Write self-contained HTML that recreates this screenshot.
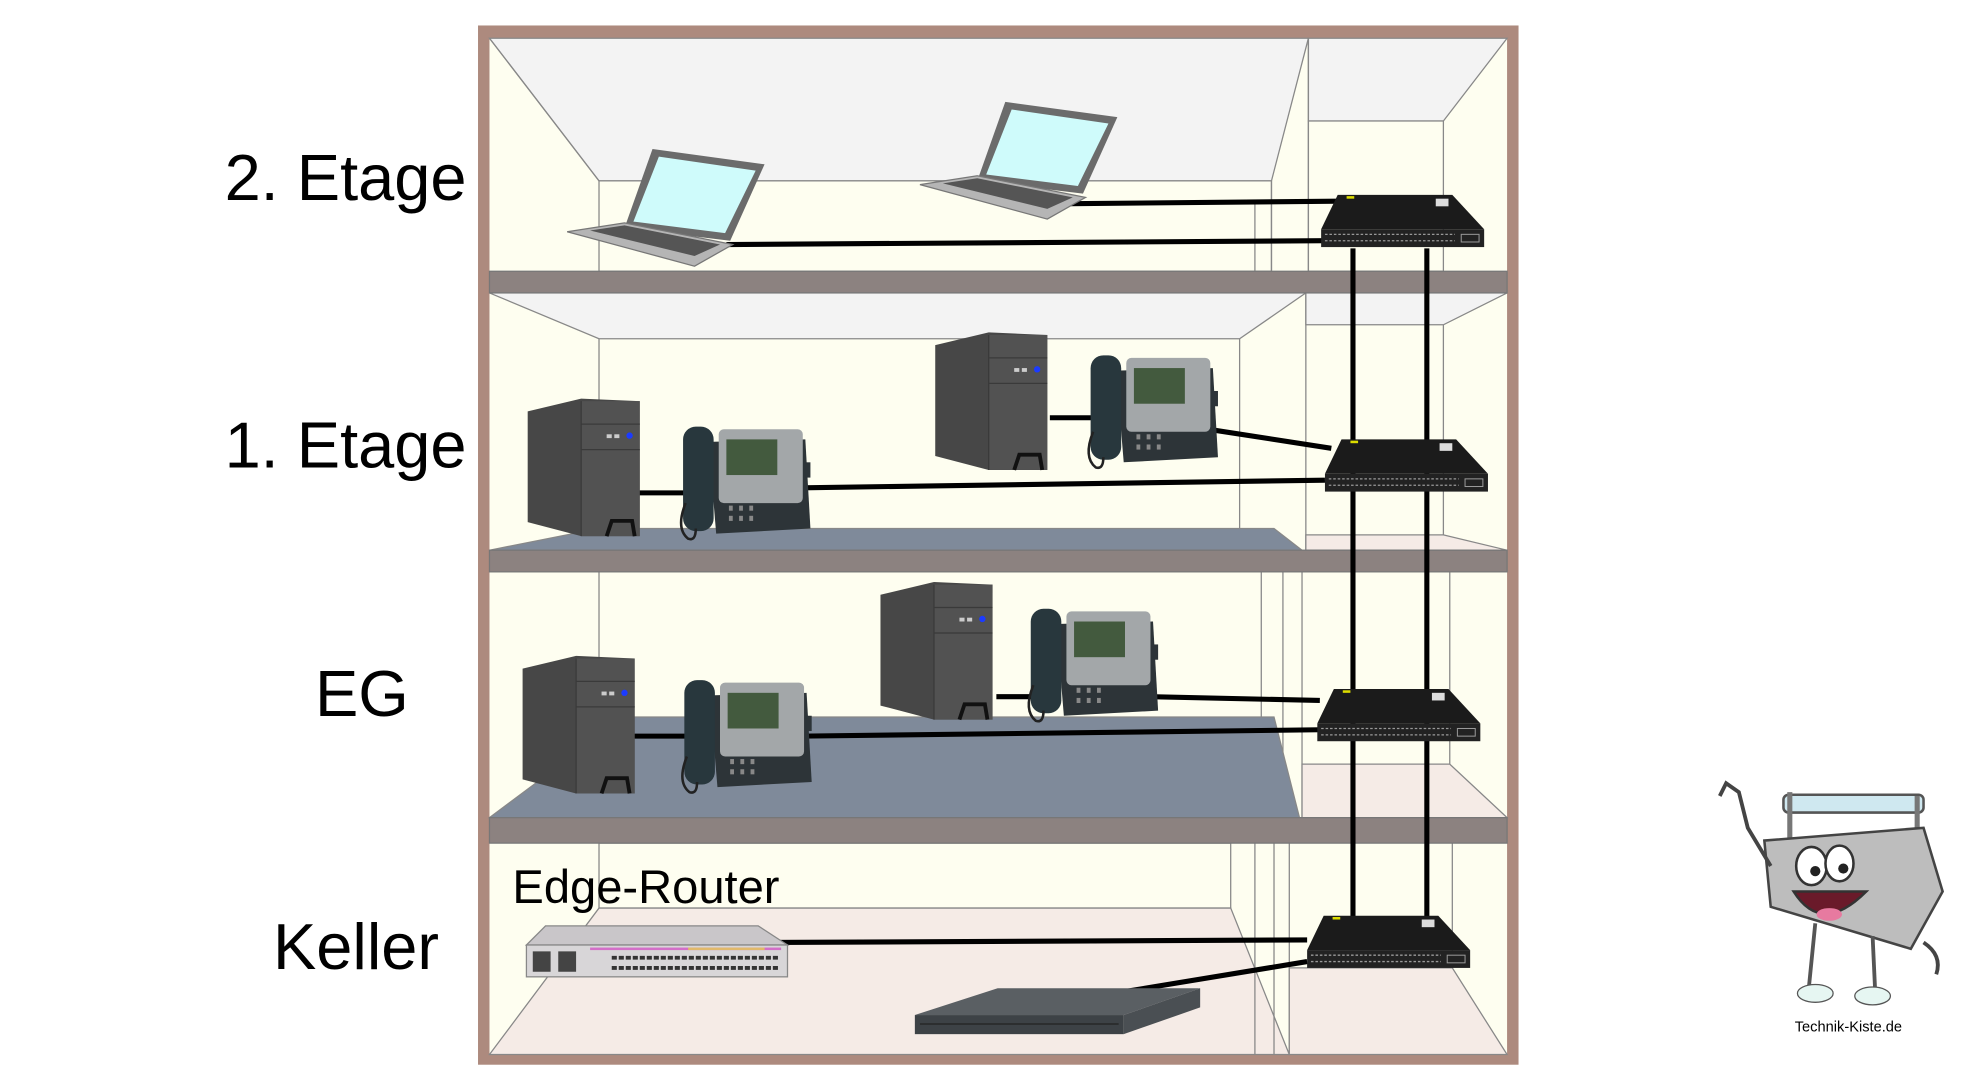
<!DOCTYPE html>
<html><head><meta charset="utf-8"><style>
html,body{margin:0;padding:0;background:#fff;}
svg{display:block;}
text{font-family:"Liberation Sans",sans-serif;}
</style></head><body>
<svg width="1980" height="1080" viewBox="0 0 1554 848" xmlns="http://www.w3.org/2000/svg">
<defs>
<g id="tower">
 <polygon points="0,10 42,0 88,2 88,108 42,108 0,97" fill="#474747"/>
 <rect x="42" y="2" width="46" height="106" fill="#525252"/>
 <line x1="42" y1="2" x2="42" y2="108" stroke="#3a3a3a"/>
 <line x1="42" y1="20" x2="88" y2="20" stroke="#3a3a3a"/>
 <line x1="42" y1="40" x2="88" y2="40" stroke="#3a3a3a"/>
 <rect x="62" y="28" width="4" height="3" fill="#ccc"/><rect x="68" y="28" width="4" height="3" fill="#ccc"/>
 <circle cx="80" cy="29" r="2.5" fill="#1b3bff"/>
 <path d="M62,108 L66,96 L82,96 L84,108" fill="none" stroke="#111" stroke-width="3"/>
</g>
<g id="phone">
 <polygon points="24,12 100,10 104,80 30,84" fill="#2d3438"/>
 <rect x="32" y="2" width="66" height="58" rx="4" fill="#a3a7a9"/>
 <rect x="38" y="10" width="40" height="28" fill="#435a3e"/>
 <rect x="100" y="28" width="4" height="12" fill="#2d3438"/>
 <rect x="4" y="0" width="24" height="82" rx="10" fill="#28373d"/>
 <path d="M6,60 Q-2,80 8,88 Q14,90 14,80" fill="none" stroke="#222" stroke-width="2"/>
 <g fill="#888"><rect x="40" y="62" width="3" height="4"/><rect x="48" y="62" width="3" height="4"/><rect x="56" y="62" width="3" height="4"/><rect x="40" y="70" width="3" height="4"/><rect x="48" y="70" width="3" height="4"/><rect x="56" y="70" width="3" height="4"/></g>
</g>
<g id="switch">
 <polygon points="13,0 103,0 128,27 0,27" fill="#1b1b1b"/>
 <rect x="0" y="27" width="128" height="14" fill="#222"/>
 <line x1="3" y1="31" x2="105" y2="31" stroke="#999" stroke-width="1" stroke-dasharray="2,1.5"/>
 <line x1="3" y1="36" x2="105" y2="36" stroke="#999" stroke-width="1" stroke-dasharray="2,1.5"/>
 <rect x="110" y="31" width="14" height="6" fill="none" stroke="#999" stroke-width="0.8"/>
 <rect x="90" y="3" width="10" height="6" fill="#ddd"/>
 <rect x="20" y="1" width="6" height="2" fill="#dd0"/>
</g>
<g id="laptop">
 <polygon points="67,0 155,12 128,72 45,62" fill="#6b6b6b"/>
 <polygon points="72,6 148,17 124,66 52,57" fill="#cffbfb"/>
 <polygon points="0,65 45,58 130,75 100,92" fill="#b5b5b5" stroke="#777" stroke-width="1"/>
 <polygon points="18,64 45,60 120,75 100,84" fill="#555"/>
</g>
</defs>

<rect x="375" y="20" width="817" height="816" fill="#ad8a7e"/>
<rect x="384" y="30" width="799" height="798" fill="#fefef0"/>

<g stroke="#888" stroke-width="1">
<polygon points="384,30 1027,30 998,142 470,142" fill="#f3f3f3"/>
<rect x="470" y="142" width="528" height="71" fill="#fefef0"/>
<line x1="384" y1="30" x2="470" y2="142"/>
<line x1="985" y1="213" x2="985" y2="160"/><line x1="998" y1="142" x2="998" y2="213"/>
<polygon points="1027,30 1183,30 1133,95 1027,95" fill="#f3f3f3"/>
<rect x="1027" y="95" width="106" height="118" fill="#fefef0"/>
<line x1="1027" y1="30" x2="1027" y2="213"/>
<polygon points="384,230 1025,230 973,266 470,266" fill="#f3f3f3"/>
<line x1="470" y1="266" x2="470" y2="415"/><line x1="973" y1="266" x2="973" y2="415"/>
<polygon points="1025,230 1183,230 1133,255 1025,255" fill="#f3f3f3"/>
<line x1="1025" y1="230" x2="1025" y2="432"/><line x1="1133" y1="255" x2="1133" y2="420"/>
<polygon points="1025,420 1133,420 1183,432 1025,432" fill="#f5ebe6"/>
<polygon points="384,432 470,415 1000,415 1022,432" fill="#7f8a9a"/>
<line x1="470" y1="449" x2="470" y2="563"/><line x1="990" y1="449" x2="990" y2="563"/>
<line x1="1007" y1="449" x2="1007" y2="642"/><line x1="1022" y1="449" x2="1022" y2="642"/>
<line x1="1138" y1="449" x2="1138" y2="600"/>
<polygon points="1022,600 1138,600 1183,642 1022,642" fill="#f5ebe6"/>
<polygon points="384,642 490,563 1000,563 1020,642" fill="#7f8a9a"/>
<rect x="470" y="662" width="496" height="51" fill="#fefef0"/>
<polygon points="384,828 470,713 966,713 1012,828" fill="#f5ebe6"/>
<line x1="985" y1="662" x2="985" y2="828"/><line x1="1000" y1="662" x2="1000" y2="828"/>
<line x1="1012" y1="662" x2="1012" y2="828"/>
<line x1="1140" y1="662" x2="1140" y2="760"/>
<polygon points="1012,760 1140,760 1183,828 1012,828" fill="#f5ebe6"/>
</g>

<rect x="384" y="213" width="799" height="17" fill="#8c8280" stroke="#777" stroke-width="1"/>
<rect x="384" y="432" width="799" height="17" fill="#8c8280" stroke="#777" stroke-width="1"/>
<rect x="384" y="642" width="799" height="20" fill="#8c8280" stroke="#777" stroke-width="1"/>

<line x1="1062" y1="195" x2="1062" y2="720" stroke="#000" stroke-width="4"/>
<line x1="1120" y1="195" x2="1120" y2="720" stroke="#000" stroke-width="4"/>

<g stroke="#000" stroke-width="4" fill="none">
<line x1="570" y1="192" x2="1040" y2="189"/>
<line x1="830" y1="160" x2="1050" y2="158"/>
<line x1="500" y1="387" x2="540" y2="387"/>
<line x1="630" y1="383" x2="1040" y2="377"/>
<line x1="824" y1="328" x2="860" y2="328"/>
<line x1="948" y1="337" x2="1045" y2="352"/>
<line x1="496" y1="578" x2="540" y2="578"/>
<line x1="630" y1="578" x2="1036" y2="573"/>
<line x1="782" y1="547" x2="812" y2="547"/>
<line x1="903" y1="547" x2="1036" y2="550"/>
<line x1="607" y1="740" x2="1026" y2="738"/>
<line x1="868" y1="781" x2="1026" y2="755"/>
</g>

<use href="#laptop" x="445" y="117"/>
<use href="#laptop" x="722" y="80"/>
<use href="#switch" x="1037" y="153"/>
<use href="#tower" x="414" y="313"/>
<use href="#tower" x="734" y="261"/>
<use href="#phone" x="532" y="335"/>
<use href="#phone" x="852" y="279"/>
<use href="#switch" x="1040" y="345"/>
<use href="#tower" x="410" y="515"/>
<use href="#tower" x="691" y="457"/>
<use href="#phone" x="533" y="534"/>
<use href="#phone" x="805" y="478"/>
<use href="#switch" x="1034" y="541"/>
<use href="#switch" x="1026" y="719"/>

<polygon points="428,727 595,727 618,742 413,742" fill="#c9c6c9" stroke="#888"/>
<rect x="413" y="742" width="205" height="25" fill="#d8d6d8" stroke="#888"/>
<rect x="463" y="744" width="150" height="2" fill="#d36fc8"/>
<rect x="540" y="744" width="60" height="2" fill="#e1b96b"/>
<line x1="480" y1="752" x2="612" y2="752" stroke="#333" stroke-width="3" stroke-dasharray="4,1.5"/>
<line x1="480" y1="760" x2="612" y2="760" stroke="#333" stroke-width="3" stroke-dasharray="4,1.5"/>
<rect x="418" y="747" width="14" height="16" fill="#444"/><rect x="438" y="747" width="14" height="16" fill="#444"/>

<polygon points="783,776 942,776 882,797 718,797" fill="#5a5f63"/>
<rect x="718" y="797" width="164" height="15" fill="#3d4246"/>
<polygon points="882,797 942,776 942,791 882,812" fill="#4a4f53"/>
<line x1="722" y1="804" x2="878" y2="804" stroke="#222" stroke-width="1"/>

<text x="176" y="157" font-size="51">2. Etage</text>
<text x="176" y="367" font-size="51">1. Etage</text>
<text x="247" y="562" font-size="51">EG</text>
<text x="214" y="761" font-size="51">Keller</text>
<text x="402" y="709" font-size="37">Edge-Router</text>

<g>
<rect x="1400" y="624" width="110" height="14" rx="4" fill="#cfe8f0" stroke="#555" stroke-width="2"/>
<line x1="1405" y1="622" x2="1405" y2="660" stroke="#777" stroke-width="4"/>
<line x1="1505" y1="625" x2="1505" y2="670" stroke="#777" stroke-width="4"/>
<polygon points="1385,660 1510,650 1525,700 1500,745 1390,712" fill="#bdbdbd" stroke="#444" stroke-width="2"/>
<ellipse cx="1422" cy="680" rx="12" ry="15" fill="#fff" stroke="#333" stroke-width="2"/>
<ellipse cx="1444" cy="678" rx="11" ry="14" fill="#fff" stroke="#333" stroke-width="2"/>
<circle cx="1425" cy="684" r="4" fill="#222"/><circle cx="1447" cy="682" r="4" fill="#222"/>
<path d="M1408,700 Q1430,735 1465,700 Z" fill="#6a1a2a" stroke="#333" stroke-width="2"/>
<ellipse cx="1436" cy="718" rx="10" ry="5" fill="#e77aa0"/>
<path d="M1350,625 L1355,615 L1365,622 L1372,650 L1390,680" fill="none" stroke="#444" stroke-width="3"/>
<line x1="1425" y1="725" x2="1420" y2="775" stroke="#555" stroke-width="3"/>
<line x1="1470" y1="735" x2="1472" y2="778" stroke="#555" stroke-width="3"/>
<ellipse cx="1425" cy="780" rx="14" ry="7" fill="#e6f6f2" stroke="#555"/>
<ellipse cx="1470" cy="782" rx="14" ry="7" fill="#e6f6f2" stroke="#555"/>
<path d="M1510,740 Q1525,750 1520,765" fill="none" stroke="#444" stroke-width="3"/>
</g>
<text x="1451" y="810" font-size="11.5" text-anchor="middle">Technik-Kiste.de</text>
</svg>
</body></html>
